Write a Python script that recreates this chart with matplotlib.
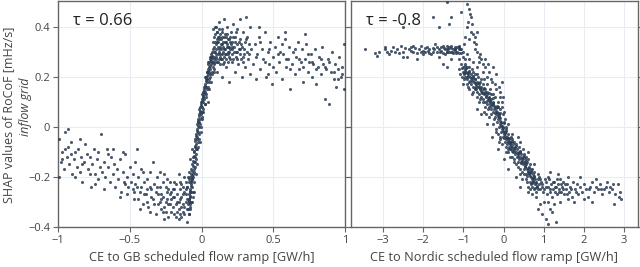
import matplotlib
matplotlib.use("Agg")
import matplotlib.pyplot as plt
from matplotlib.ticker import FuncFormatter

plt.rcParams['font.family'] = ['Open Sans', 'DejaVu Sans']

# SHAP points, (ramp, shap) pairs per region of the cloud
# left panel: CE to GB
gb_negative = [
    (-0.99, -0.05), (-0.98, -0.14), (-0.97, -0.10), (-0.99, -0.20), (-0.96, -0.17), (-0.95, -0.02),
    (-0.94, -0.12), (-0.93, -0.08), (-0.92, -0.15), (-0.91, -0.11), (-0.90, -0.19), (-0.97, -0.13),
    (-0.95, -0.09), (-0.93, -0.01), (-0.91, -0.06), (-0.89, -0.13), (-0.88, -0.10), (-0.87, -0.16),
    (-0.86, -0.09), (-0.85, -0.18), (-0.84, -0.12), (-0.83, -0.22), (-0.82, -0.14), (-0.81, -0.07),
    (-0.80, -0.11), (-0.88, -0.20), (-0.85, -0.05), (-0.83, -0.15), (-0.79, -0.17), (-0.78, -0.12),
    (-0.77, -0.24), (-0.76, -0.15), (-0.75, -0.09), (-0.74, -0.19), (-0.73, -0.13), (-0.72, -0.21),
    (-0.71, -0.16), (-0.70, -0.03), (-0.78, -0.19), (-0.74, -0.23), (-0.72, -0.10), (-0.69, -0.18),
    (-0.68, -0.14), (-0.67, -0.20), (-0.66, -0.09), (-0.65, -0.16), (-0.64, -0.22), (-0.63, -0.12),
    (-0.62, -0.19), (-0.61, -0.15), (-0.60, -0.24), (-0.68, -0.25), (-0.65, -0.11), (-0.62, -0.09),
    (-0.59, -0.17), (-0.58, -0.21), (-0.57, -0.13), (-0.56, -0.26), (-0.55, -0.18), (-0.54, -0.22),
    (-0.53, -0.11), (-0.52, -0.20), (-0.51, -0.24), (-0.50, -0.16), (-0.57, -0.28), (-0.55, -0.10),
    (-0.52, -0.27), (-0.49, -0.22), (-0.48, -0.19), (-0.47, -0.29), (-0.46, -0.14), (-0.45, -0.24),
    (-0.44, -0.20), (-0.43, -0.26), (-0.42, -0.17), (-0.41, -0.31), (-0.40, -0.22), (-0.48, -0.25),
    (-0.45, -0.09), (-0.43, -0.33), (-0.41, -0.18), (-0.39, -0.27), (-0.38, -0.21), (-0.37, -0.32),
    (-0.36, -0.18), (-0.35, -0.25), (-0.34, -0.29), (-0.33, -0.23), (-0.32, -0.35), (-0.31, -0.20),
    (-0.30, -0.27), (-0.38, -0.30), (-0.36, -0.24), (-0.34, -0.14), (-0.32, -0.26), (-0.30, -0.31),
    (-0.29, -0.24), (-0.28, -0.33), (-0.27, -0.28), (-0.26, -0.19), (-0.25, -0.30), (-0.24, -0.26),
    (-0.23, -0.36), (-0.22, -0.22), (-0.21, -0.29), (-0.20, -0.32), (-0.28, -0.27), (-0.26, -0.37),
    (-0.24, -0.21), (-0.22, -0.31), (-0.20, -0.25), (-0.29, -0.18), (-0.25, -0.34), (-0.19, -0.28),
    (-0.18, -0.23), (-0.17, -0.34), (-0.16, -0.30), (-0.15, -0.25), (-0.14, -0.36), (-0.13, -0.27),
    (-0.12, -0.32), (-0.11, -0.22), (-0.10, -0.29), (-0.18, -0.31), (-0.16, -0.19), (-0.15, -0.35),
    (-0.13, -0.24), (-0.11, -0.30), (-0.19, -0.35), (-0.14, -0.28), (-0.12, -0.20),
]
gb_trough = [
    (-0.29, -0.30), (-0.27, -0.22), (-0.26, -0.32), (-0.24, -0.29), (-0.23, -0.25), (-0.21, -0.34),
    (-0.20, -0.28), (-0.19, -0.22), (-0.18, -0.36), (-0.17, -0.27), (-0.16, -0.33), (-0.15, -0.29),
    (-0.14, -0.23), (-0.13, -0.31), (-0.12, -0.26), (-0.12, -0.35), (-0.11, -0.27), (-0.10, -0.33),
    (-0.10, -0.24), (-0.09, -0.29), (-0.09, -0.21), (-0.08, -0.32), (-0.08, -0.26), (-0.07, -0.30),
    (-0.07, -0.22), (-0.16, -0.37), (-0.14, -0.32), (-0.22, -0.27), (-0.25, -0.24), (-0.28, -0.29),
    (-0.33, -0.31), (-0.35, -0.28), (-0.31, -0.24), (-0.36, -0.34), (-0.40, -0.27), (-0.42, -0.24),
    (-0.44, -0.29), (-0.46, -0.23), (-0.38, -0.25), (-0.53, -0.23), (-0.47, -0.26),
    (-0.21, -0.26), (-0.17, -0.30), (-0.13, -0.34), (-0.11, -0.25), (-0.09, -0.35), (-0.23, -0.31),
    (-0.19, -0.25), (-0.15, -0.22), (-0.27, -0.34), (-0.10, -0.38),
]
gb_ramp = [
    (-0.095, -0.31), (-0.09, -0.27), (-0.088, -0.22), (-0.085, -0.29), (-0.082, -0.25), (-0.08, -0.20),
    (-0.078, -0.28), (-0.075, -0.23), (-0.072, -0.17), (-0.07, -0.26), (-0.068, -0.21), (-0.065, -0.15),
    (-0.063, -0.24), (-0.06, -0.19), (-0.058, -0.12), (-0.055, -0.17), (-0.053, -0.10), (-0.05, -0.14),
    (-0.048, -0.08), (-0.045, -0.12), (-0.043, -0.05), (-0.04, -0.09), (-0.038, -0.03), (-0.035, -0.07),
    (-0.033, -0.01), (-0.03, -0.05), (-0.028, 0.01), (-0.025, -0.02), (-0.022, 0.03), (-0.02, 0.00),
    (-0.018, 0.05), (-0.015, 0.02), (-0.012, 0.06), (-0.01, 0.03), (-0.007, 0.08), (-0.005, 0.05),
    (-0.002, 0.09), (0.0, 0.06), (0.003, 0.11), (0.005, 0.08), (0.008, 0.12), (0.01, 0.10),
    (0.013, 0.14), (0.015, 0.11), (0.018, 0.15), (0.02, 0.13), (0.023, 0.17), (0.025, 0.14),
    (0.028, 0.19), (0.03, 0.16), (0.033, 0.20), (0.035, 0.18), (0.038, 0.22), (0.04, 0.19),
    (0.043, 0.23), (0.045, 0.21), (0.048, 0.25), (0.05, 0.22), (0.053, 0.26), (0.055, 0.24),
    (0.058, 0.27), (0.06, 0.23), (0.063, 0.28), (0.065, 0.25), (0.068, 0.29), (0.07, 0.26),
    (0.075, 0.28), (0.078, 0.24), (-0.092, -0.33), (-0.087, -0.35), (-0.083, -0.31), (-0.077, -0.13),
    (-0.066, -0.09), (-0.057, -0.20), (-0.046, -0.16), (-0.036, -0.11), (-0.027, -0.06), (-0.016, -0.03),
    (-0.006, 0.00), (0.004, 0.03), (0.012, 0.07), (0.022, 0.09), (0.032, 0.12), (0.042, 0.16),
    (0.052, 0.19), (0.062, 0.20), (0.072, 0.22),
    (-0.098, -0.24), (-0.094, -0.20), (-0.089, -0.30), (-0.084, -0.18), (-0.079, -0.33), (-0.074, -0.19),
    (-0.069, -0.30), (-0.064, -0.21), (-0.059, -0.26), (-0.054, -0.22), (-0.049, -0.18), (-0.044, -0.14),
    (-0.039, -0.13), (-0.034, -0.04), (-0.029, -0.09), (-0.024, 0.02), (-0.019, -0.05), (-0.014, 0.07),
    (-0.009, 0.01), (-0.004, 0.10), (0.001, 0.04), (0.006, 0.13), (0.011, 0.06), (0.016, 0.16),
    (0.021, 0.09), (0.026, 0.20), (0.031, 0.13), (0.036, 0.22), (0.041, 0.15), (0.046, 0.26),
    (0.051, 0.18), (0.056, 0.28), (0.061, 0.21), (0.066, 0.27), (0.071, 0.30), (0.076, 0.21),
    (0.081, 0.26), (0.086, 0.23), (0.067, 0.18), (0.054, 0.15), (0.044, 0.10), (-0.001, -0.02),
    (-0.011, -0.06), (-0.021, -0.08), (-0.041, -0.19), (-0.031, -0.15), (-0.062, -0.28), (-0.052, -0.26),
]
gb_ramp_core = [
    (-0.086, -0.295), (-0.081, -0.275), (-0.077, -0.255), (-0.074, -0.235), (-0.071, -0.215),
    (-0.068, -0.195), (-0.066, -0.175), (-0.062, -0.155), (-0.058, -0.135), (-0.055, -0.115),
    (-0.051, -0.095), (-0.047, -0.075), (-0.043, -0.055), (-0.039, -0.035), (-0.033, -0.015),
    (-0.027, 0.005), (-0.021, 0.025), (-0.014, 0.045), (-0.008, 0.065), (-0.002, 0.085),
    (0.004, 0.105), (0.010, 0.125), (0.017, 0.145), (0.025, 0.165), (0.033, 0.185),
    (0.041, 0.205), (0.048, 0.225), (0.056, 0.245), (0.063, 0.265), (0.072, 0.285),
]
gb_peak = [
    (0.08, 0.31), (0.085, 0.36), (0.09, 0.27), (0.095, 0.40), (0.10, 0.33), (0.105, 0.22),
    (0.11, 0.38), (0.115, 0.29), (0.12, 0.42), (0.125, 0.35), (0.13, 0.25), (0.135, 0.31),
    (0.14, 0.39), (0.145, 0.20), (0.15, 0.34), (0.155, 0.28), (0.16, 0.43), (0.165, 0.37),
    (0.17, 0.24), (0.175, 0.32), (0.18, 0.40), (0.185, 0.29), (0.19, 0.35), (0.195, 0.18),
    (0.20, 0.31), (0.205, 0.38), (0.21, 0.26), (0.215, 0.34), (0.22, 0.41), (0.225, 0.30),
    (0.23, 0.22), (0.235, 0.36), (0.24, 0.28), (0.245, 0.33), (0.25, 0.39), (0.255, 0.25),
    (0.26, 0.31), (0.265, 0.43), (0.27, 0.35), (0.275, 0.27), (0.28, 0.20), (0.285, 0.32),
    (0.29, 0.38), (0.295, 0.29), (0.30, 0.34), (0.305, 0.24), (0.31, 0.44), (0.315, 0.30),
    (0.32, 0.36), (0.325, 0.27), (0.33, 0.33), (0.335, 0.21), (0.34, 0.40), (0.345, 0.31),
    (0.09, 0.32), (0.10, 0.28), (0.11, 0.34), (0.12, 0.30), (0.13, 0.37), (0.14, 0.33),
    (0.15, 0.30), (0.16, 0.26), (0.17, 0.36), (0.18, 0.33), (0.19, 0.28), (0.20, 0.36),
    (0.21, 0.32), (0.22, 0.27), (0.23, 0.34), (0.24, 0.38), (0.25, 0.30), (0.27, 0.31),
    (0.29, 0.26), (0.31, 0.35), (0.33, 0.29), (0.10, 0.40), (0.12, 0.36), (0.095, 0.30),
    (0.105, 0.35), (0.085, 0.28), (0.115, 0.26), (0.125, 0.39), (0.135, 0.35), (0.145, 0.29),
    (0.082, 0.34), (0.088, 0.25), (0.092, 0.37), (0.098, 0.29), (0.102, 0.31), (0.108, 0.26),
    (0.112, 0.32), (0.118, 0.34), (0.122, 0.27), (0.128, 0.32), (0.132, 0.29), (0.138, 0.27),
    (0.142, 0.36), (0.148, 0.32), (0.152, 0.25), (0.158, 0.31), (0.162, 0.34), (0.168, 0.29),
    (0.172, 0.27), (0.178, 0.37), (0.182, 0.30), (0.188, 0.26), (0.192, 0.32), (0.198, 0.34),
    (0.202, 0.27), (0.212, 0.29), (0.218, 0.36), (0.228, 0.32), (0.238, 0.30), (0.248, 0.27),
    (0.258, 0.34), (0.268, 0.29), (0.278, 0.33), (0.288, 0.28), (0.298, 0.31), (0.082, 0.39),
    (0.09, 0.22), (0.086, 0.30), (0.094, 0.34), (0.104, 0.27), (0.114, 0.36), (0.124, 0.31),
    (0.134, 0.33), (0.144, 0.27), (0.154, 0.36), (0.164, 0.31), (0.174, 0.34), (0.184, 0.32),
    (0.194, 0.30), (0.204, 0.33), (0.214, 0.31), (0.096, 0.26), (0.106, 0.38), (0.126, 0.28),
    (0.146, 0.38), (0.166, 0.29), (0.186, 0.35),
]
gb_positive = [
    (0.36, 0.25), (0.37, 0.33), (0.38, 0.19), (0.39, 0.29), (0.40, 0.36), (0.41, 0.23),
    (0.42, 0.31), (0.43, 0.27), (0.44, 0.38), (0.45, 0.20), (0.46, 0.30), (0.47, 0.25),
    (0.48, 0.34), (0.49, 0.17), (0.50, 0.28), (0.51, 0.32), (0.52, 0.22), (0.53, 0.36),
    (0.54, 0.26), (0.55, 0.30), (0.56, 0.19), (0.57, 0.29), (0.58, 0.35), (0.59, 0.24),
    (0.60, 0.27), (0.61, 0.32), (0.62, 0.15), (0.63, 0.25), (0.64, 0.30), (0.65, 0.21),
    (0.66, 0.28), (0.67, 0.34), (0.68, 0.23), (0.69, 0.26), (0.70, 0.31), (0.71, 0.18),
    (0.72, 0.27), (0.73, 0.33), (0.74, 0.22), (0.75, 0.26), (0.76, 0.29), (0.77, 0.20),
    (0.78, 0.25), (0.79, 0.31), (0.80, 0.17), (0.81, 0.24), (0.82, 0.28), (0.83, 0.21),
    (0.84, 0.32), (0.85, 0.25), (0.86, 0.11), (0.87, 0.23), (0.88, 0.27), (0.89, 0.09),
    (0.90, 0.22), (0.91, 0.30), (0.92, 0.19), (0.93, 0.25), (0.94, 0.16), (0.95, 0.23),
    (0.96, 0.28), (0.97, 0.20), (0.98, 0.24), (0.99, 0.15), (0.995, 0.33), (0.38, 0.28),
    (0.41, 0.34), (0.44, 0.26), (0.47, 0.31), (0.50, 0.24), (0.53, 0.29), (0.56, 0.33),
    (0.59, 0.27), (0.62, 0.23), (0.65, 0.31), (0.68, 0.27), (0.71, 0.24), (0.74, 0.29),
    (0.77, 0.26), (0.80, 0.23), (0.83, 0.27), (0.86, 0.24), (0.89, 0.26), (0.92, 0.22),
    (0.95, 0.19), (0.98, 0.21), (0.40, 0.40), (0.58, 0.38), (0.72, 0.37), (0.46, 0.21),
]

# right panel: CE to Nordic
nordic_plateau = [
    (-3.45, 0.31), (-3.2, 0.295), (-3.15, 0.285), (-2.95, 0.31), (-2.9, 0.30), (-2.8, 0.305),
    (-2.75, 0.32), (-2.65, 0.31), (-2.6, 0.295), (-2.55, 0.325), (-2.5, 0.30), (-2.45, 0.315),
    (-2.4, 0.28), (-2.35, 0.31), (-2.3, 0.32), (-2.25, 0.30), (-2.2, 0.315), (-2.15, 0.295),
    (-2.1, 0.31), (-2.05, 0.325), (-2.0, 0.305), (-1.95, 0.30), (-1.9, 0.32), (-1.85, 0.31),
    (-1.8, 0.29), (-1.75, 0.315), (-1.7, 0.33), (-1.65, 0.30), (-1.6, 0.31), (-1.55, 0.32),
    (-1.5, 0.295), (-1.45, 0.31), (-1.4, 0.325), (-1.35, 0.30), (-1.3, 0.315), (-1.25, 0.31),
    (-1.2, 0.32), (-1.15, 0.30), (-1.1, 0.31), (-1.05, 0.295), (-2.85, 0.29), (-2.7, 0.30),
    (-2.25, 0.325), (-2.0, 0.29), (-1.88, 0.305), (-1.72, 0.31), (-1.58, 0.30), (-1.52, 0.325),
    (-1.48, 0.315), (-1.42, 0.30), (-1.38, 0.31), (-1.32, 0.325), (-1.28, 0.30), (-1.22, 0.31),
    (-1.18, 0.295), (-1.12, 0.32), (-1.08, 0.31), (-1.62, 0.28), (-2.15, 0.27), (-1.5, 0.25),
    (-1.3, 0.27), (-2.5, 0.28), (-1.4, 0.31), (-1.2, 0.305), (-1.1, 0.325), (-1.0, 0.28),
    (-0.95, 0.27), (-0.9, 0.29), (-0.85, 0.27), (-0.75, 0.26), (-0.65, 0.24), (-1.1, 0.27),
    (-1.45, 0.29), (-1.40, 0.30), (-1.35, 0.32), (-1.30, 0.30), (-1.25, 0.295), (-1.20, 0.31),
    (-1.15, 0.32), (-1.10, 0.295), (-1.05, 0.31), (-1.02, 0.30), (-1.55, 0.305), (-1.65, 0.32),
    (-1.75, 0.30), (-1.85, 0.295), (-1.95, 0.315), (-2.05, 0.30), (-2.3, 0.305), (-2.95, 0.32),
    (-3.1, 0.30),
]
nordic_spike = [
    (-0.90, 0.49), (-0.86, 0.47), (-0.84, 0.45), (-0.80, 0.44), (-0.88, 0.42), (-0.92, 0.40),
    (-0.78, 0.41), (-0.82, 0.38), (-0.76, 0.37), (-0.70, 0.36), (-0.74, 0.34), (-0.85, 0.35),
    (-0.68, 0.33), (-0.72, 0.31), (-0.65, 0.30), (-0.62, 0.28), (-0.58, 0.29), (-0.55, 0.27),
    (-0.52, 0.25), (-0.60, 0.26), (-0.95, 0.36), (-1.05, 0.46), (-1.30, 0.44), (-1.35, 0.41),
    (-1.60, 0.40), (-1.75, 0.44), (-2.5, 0.40), (-1.42, 0.50), (-0.83, 0.51), (-0.98, 0.33),
    (-0.66, 0.38), (-0.50, 0.22), (-0.45, 0.24), (-0.48, 0.19), (-1.40, 0.24),
]
nordic_band = [
    (-1.05, 0.25), (-1.02, 0.22), (-1.0, 0.24), (-0.98, 0.21), (-0.96, 0.23), (-0.95, 0.20),
    (-0.93, 0.22), (-0.91, 0.19), (-0.90, 0.24), (-0.88, 0.21), (-0.86, 0.18), (-0.85, 0.22),
    (-0.83, 0.20), (-0.82, 0.17), (-0.80, 0.21), (-1.03, 0.20), (-0.97, 0.25), (-0.92, 0.17),
    (-0.79, 0.19), (-0.77, 0.16), (-0.76, 0.20), (-0.74, 0.18), (-0.72, 0.15), (-0.71, 0.19),
    (-0.69, 0.17), (-0.67, 0.14), (-0.66, 0.18), (-0.64, 0.16), (-0.62, 0.13), (-0.61, 0.17),
    (-0.59, 0.15), (-0.57, 0.12), (-0.56, 0.16), (-0.54, 0.14), (-0.52, 0.11), (-0.51, 0.15),
    (-0.78, 0.13), (-0.70, 0.21), (-0.63, 0.20), (-0.55, 0.19), (-0.60, 0.10), (-0.49, 0.13),
    (-0.47, 0.10), (-0.46, 0.14), (-0.44, 0.12), (-0.42, 0.09), (-0.41, 0.13), (-0.39, 0.11),
    (-0.37, 0.08), (-0.36, 0.12), (-0.34, 0.10), (-0.32, 0.07), (-0.31, 0.11), (-0.29, 0.09),
    (-0.27, 0.06), (-0.26, 0.10), (-0.24, 0.07), (-0.22, 0.04), (-0.21, 0.08), (-0.48, 0.06),
    (-0.40, 0.17), (-0.33, 0.15), (-0.28, 0.18), (-0.25, 0.13), (-0.20, 0.15), (-0.35, 0.04),
    (-0.43, 0.05), (-0.19, 0.05), (-0.17, 0.02), (-0.16, 0.06), (-0.14, 0.03), (-0.12, 0.00),
    (-0.11, 0.04), (-0.09, 0.01), (-0.07, -0.02), (-0.06, 0.02), (-0.04, -0.01), (-0.02, -0.04),
    (-0.01, 0.00), (0.01, -0.03), (0.03, -0.06), (0.04, -0.02), (0.06, -0.05), (0.08, -0.07),
    (0.09, -0.04), (-0.15, 0.10), (-0.10, 0.12), (-0.05, 0.08), (0.00, 0.06), (-0.18, -0.02),
    (-0.08, -0.05), (0.02, 0.02), (-0.13, 0.08), (0.11, -0.06), (0.13, -0.08), (0.14, -0.05),
    (0.16, -0.07), (0.18, -0.09), (0.19, -0.06), (0.21, -0.08), (0.23, -0.10), (0.24, -0.07),
    (0.26, -0.09), (0.28, -0.11), (0.29, -0.08), (0.31, -0.10), (0.33, -0.12), (0.34, -0.09),
    (0.36, -0.11), (0.38, -0.13), (0.39, -0.10), (0.41, -0.12), (0.43, -0.14), (0.44, -0.11),
    (0.46, -0.13), (0.48, -0.15), (0.49, -0.12), (0.15, -0.12), (0.25, -0.14), (0.35, -0.04),
    (0.42, -0.06), (0.30, -0.15), (0.20, -0.03), (0.45, -0.18), (0.12, -0.10), (0.51, -0.14),
    (0.53, -0.16), (0.54, -0.13), (0.56, -0.15), (0.58, -0.17), (0.59, -0.14), (0.61, -0.18),
    (0.63, -0.16), (0.64, -0.19), (0.66, -0.17), (0.68, -0.20), (0.69, -0.18), (0.71, -0.21),
    (0.73, -0.19), (0.74, -0.22), (0.76, -0.20), (0.78, -0.23), (0.79, -0.21), (0.81, -0.22),
    (0.83, -0.24), (0.85, -0.21), (0.88, -0.23), (0.90, -0.25), (0.93, -0.22), (0.95, -0.24),
    (0.98, -0.26), (0.55, -0.21), (0.62, -0.24), (0.70, -0.27), (0.60, -0.10), (0.75, -0.15),
    (0.67, -0.25), (0.52, -0.19), (0.80, -0.28),
]
nordic_band_core = [
    (-1.04, 0.235), (-0.97, 0.245), (-0.96, 0.225), (-0.90, 0.215), (-0.88, 0.205), (-0.82, 0.195),
    (-0.79, 0.185), (-0.72, 0.175), (-0.68, 0.165), (-0.58, 0.155), (-0.55, 0.145), (-0.46, 0.135),
    (-0.44, 0.125), (-0.36, 0.115), (-0.33, 0.105), (-0.26, 0.095), (-0.24, 0.085), (-0.19, 0.075),
    (-0.19, 0.065), (-0.14, 0.055), (-0.15, 0.045), (-0.10, 0.035), (-0.10, 0.025), (-0.06, 0.015),
    (-0.06, 0.005), (-0.02, -0.005), (-0.02, -0.015), (0.03, -0.025), (0.03, -0.035), (0.09, -0.045),
    (0.10, -0.055), (0.17, -0.065), (0.18, -0.075), (0.27, -0.085), (0.27, -0.095), (0.37, -0.105),
    (0.37, -0.115), (0.46, -0.125), (0.46, -0.135), (0.53, -0.145), (0.54, -0.155), (0.60, -0.165),
    (0.60, -0.175), (0.66, -0.185), (0.66, -0.195), (0.73, -0.205), (0.73, -0.215), (0.80, -0.225),
    (-0.99, 0.215), (-0.93, 0.235), (-0.86, 0.225), (-0.84, 0.185), (-0.77, 0.205), (-0.70, 0.155),
    (-0.64, 0.175), (-0.53, 0.135), (-0.49, 0.155), (-0.42, 0.105), (-0.37, 0.135), (-0.30, 0.085),
    (-0.27, 0.115), (-0.21, 0.055), (-0.17, 0.085), (-0.12, 0.045), (-0.08, 0.055), (-0.04, 0.005),
    (0.01, 0.015), (0.00, -0.045), (0.06, -0.015), (0.13, -0.045), (0.20, -0.055), (0.22, -0.095),
    (0.32, -0.075), (0.40, -0.095), (0.44, -0.145), (0.50, -0.115), (0.57, -0.135), (0.63, -0.185),
    (0.58, -0.195), (0.69, -0.175), (0.77, -0.195), (0.70, -0.225), (0.84, -0.235), (0.78, -0.245),
]
nordic_band_edges = [
    (-1.12, 0.23), (-0.85, 0.24), (-0.78, 0.23), (-1.08, 0.21), (-0.75, 0.22), (-0.98, 0.19),
    (-0.70, 0.19), (-0.88, 0.16), (-1.0, 0.17), (-0.90, 0.20), (-0.65, 0.21), (-0.58, 0.18),
    (-0.85, 0.15), (-0.68, 0.15), (-0.50, 0.17), (-0.75, 0.14), (-0.62, 0.16), (-0.45, 0.15),
    (-0.65, 0.12), (-0.40, 0.14), (-0.30, 0.13), (-0.58, 0.11), (-0.35, 0.11), (-0.22, 0.12),
    (-0.50, 0.10), (-0.27, 0.09), (-0.45, 0.08), (-0.38, 0.07), (-0.15, 0.08), (-0.08, 0.07),
    (-0.30, 0.05), (-0.12, 0.05), (-0.23, 0.03), (-0.02, 0.05), (-0.33, 0.09), (-0.05, 0.10),
    (-0.25, 0.01), (0.03, 0.03), (-0.20, -0.01), (0.05, 0.00), (-0.15, -0.03), (0.07, -0.01),
    (0.00, -0.02), (-0.10, -0.04), (0.10, 0.01), (-0.12, -0.06), (0.12, -0.03), (0.18, -0.04),
    (-0.03, -0.07), (0.15, -0.06), (0.05, -0.08), (0.22, -0.05), (0.10, -0.09), (0.25, -0.06),
    (0.06, -0.10), (0.30, -0.07), (0.38, -0.08), (0.20, -0.12), (0.40, -0.10), (0.27, -0.13),
    (0.48, -0.09), (0.35, -0.14), (0.52, -0.11), (0.17, -0.09), (0.37, -0.16), (0.55, -0.12),
    (0.60, -0.13), (0.42, -0.17), (0.65, -0.15), (0.50, -0.17), (0.40, -0.19), (0.57, -0.19),
    (0.47, -0.21), (0.70, -0.17), (0.77, -0.18), (0.58, -0.22), (0.85, -0.19), (0.65, -0.22),
    (0.72, -0.24), (0.88, -0.20), (0.62, -0.26), (0.75, -0.25), (0.82, -0.26), (0.92, -0.21),
    (0.97, -0.23), (0.86, -0.25), (0.68, -0.23), (-0.42, 0.20), (-0.35, 0.22), (-0.30, 0.19),
    (-0.22, 0.17), (-0.18, 0.21), (-0.12, 0.16), (-0.08, 0.14), (-0.02, 0.12), (-0.38, 0.25),
    (-0.45, 0.27), (-0.25, 0.24), (-0.05, 0.18), (-0.55, 0.05), (-0.40, 0.01), (-0.28, -0.04),
    (-0.15, -0.09), (0.00, -0.13), (0.12, -0.17), (0.30, -0.20), (0.40, -0.24), (-0.65, 0.07),
]
nordic_tail = [
    (1.02, -0.25), (1.05, -0.22), (1.08, -0.27), (1.10, -0.24), (1.13, -0.21), (1.15, -0.26),
    (1.18, -0.23), (1.20, -0.28), (1.23, -0.25), (1.25, -0.22), (1.28, -0.26), (1.30, -0.24),
    (1.33, -0.27), (1.35, -0.23), (1.38, -0.25), (1.40, -0.21), (1.43, -0.26), (1.45, -0.24),
    (1.48, -0.22), (1.50, -0.27), (1.55, -0.25), (1.58, -0.23), (1.62, -0.26), (1.65, -0.24),
    (1.70, -0.28), (1.72, -0.22), (1.78, -0.25), (1.82, -0.23), (1.85, -0.27), (1.90, -0.24),
    (1.95, -0.26), (2.00, -0.23), (2.05, -0.25), (2.10, -0.28), (2.15, -0.24), (2.20, -0.22),
    (2.25, -0.26), (2.30, -0.24), (2.35, -0.25), (2.40, -0.23), (2.45, -0.27), (2.50, -0.25),
    (2.55, -0.24), (2.62, -0.26), (2.70, -0.25), (2.78, -0.27), (2.85, -0.23), (2.88, -0.28),
    (2.93, -0.29), (2.90, -0.26), (1.10, -0.30), (1.25, -0.31), (1.40, -0.30), (1.60, -0.29),
    (1.75, -0.30), (2.00, -0.29), (2.20, -0.30), (2.75, -0.31), (1.15, -0.18), (1.35, -0.19),
    (1.60, -0.20), (1.90, -0.20), (2.30, -0.21), (0.85, -0.33), (0.95, -0.35), (1.05, -0.37),
    (1.30, -0.38), (1.20, -0.34), (1.10, -0.39), (0.90, -0.31), (1.15, -0.33), (1.00, -0.30),
    (1.03, -0.21), (1.07, -0.24), (1.12, -0.20), (1.17, -0.25), (1.22, -0.22), (1.27, -0.24),
    (1.32, -0.21), (1.37, -0.26), (1.42, -0.23), (1.47, -0.25), (1.52, -0.23), (1.57, -0.27),
    (1.68, -0.25), (1.80, -0.26), (2.12, -0.25), (2.42, -0.25), (2.58, -0.22), (2.65, -0.24),
    (2.72, -0.23),
]

gb_points = gb_negative + gb_trough + gb_ramp + gb_ramp_core + gb_peak + gb_positive
nordic_points = (nordic_plateau + nordic_spike + nordic_band + nordic_band_core
                 + nordic_band_edges + nordic_tail)

panels = [
    (gb_points, 'CE to GB scheduled flow ramp [GW/h]', 'τ = 0.66', (-1, 1), [-1, -0.5, 0, 0.5, 1]),
    (nordic_points, 'CE to Nordic scheduled flow ramp [GW/h]', 'τ = -0.8', (-3.8, 3.35), [-3, -2, -1, 0, 1, 2, 3]),
]

point_color = '#2c3e55'
grid_color = '#e9edf3'
spine_color = '#666666'
text_color = '#444444'


def num_fmt(v, pos):
    return f'{v:g}'.replace('-', '\u2212')


fig = plt.figure(figsize=(6.4, 2.67), dpi=100)
ax_boxes = [[58 / 640, 40 / 267, 287 / 640, 226 / 267],
            [351 / 640, 40 / 267, 287 / 640, 226 / 267]]

for i, (pts, xlabel, tau, xlim, xticks) in enumerate(panels):
    ax = fig.add_axes(ax_boxes[i])
    xs = [p[0] for p in pts]
    ys = [p[1] for p in pts]
    ax.scatter(xs, ys, s=5, color=point_color, alpha=0.85, linewidths=0, zorder=3)
    ax.set_xlim(*xlim)
    ax.set_ylim(-0.4, 0.503)
    ax.set_xticks(xticks)
    ax.set_yticks([-0.4, -0.2, 0, 0.2, 0.4])
    ax.xaxis.set_major_formatter(FuncFormatter(num_fmt))
    ax.yaxis.set_major_formatter(FuncFormatter(num_fmt))
    ax.grid(True, color=grid_color, linewidth=0.8, zorder=0)
    ax.set_axisbelow(True)
    for sp in ax.spines.values():
        sp.set_color(spine_color)
        sp.set_linewidth(1.0)
    ax.tick_params(axis='both', direction='out', length=3.5, width=0.8, color=spine_color,
                   labelsize=8, labelcolor=text_color, pad=2)
    ax.tick_params(axis='y', right=True)
    if i == 1:
        ax.tick_params(axis='y', labelleft=False)
    ax.set_xlabel(xlabel, fontsize=9.2, color=text_color, labelpad=4)
    ax.text(0.054, 0.91, tau, transform=ax.transAxes, fontsize=12, color='#222222',
            ha='left', va='center')

fig.text(9 / 640, 1 - 115 / 267, 'SHAP values of RoCoF [mHz/s]', rotation=90,
         ha='center', va='center', fontsize=9, color=text_color)
fig.text(25 / 640, 1 - 107 / 267, 'inflow grid', rotation=90, style='italic',
         ha='center', va='center', fontsize=9, color=text_color)

fig.savefig('out.png', dpi=100)
